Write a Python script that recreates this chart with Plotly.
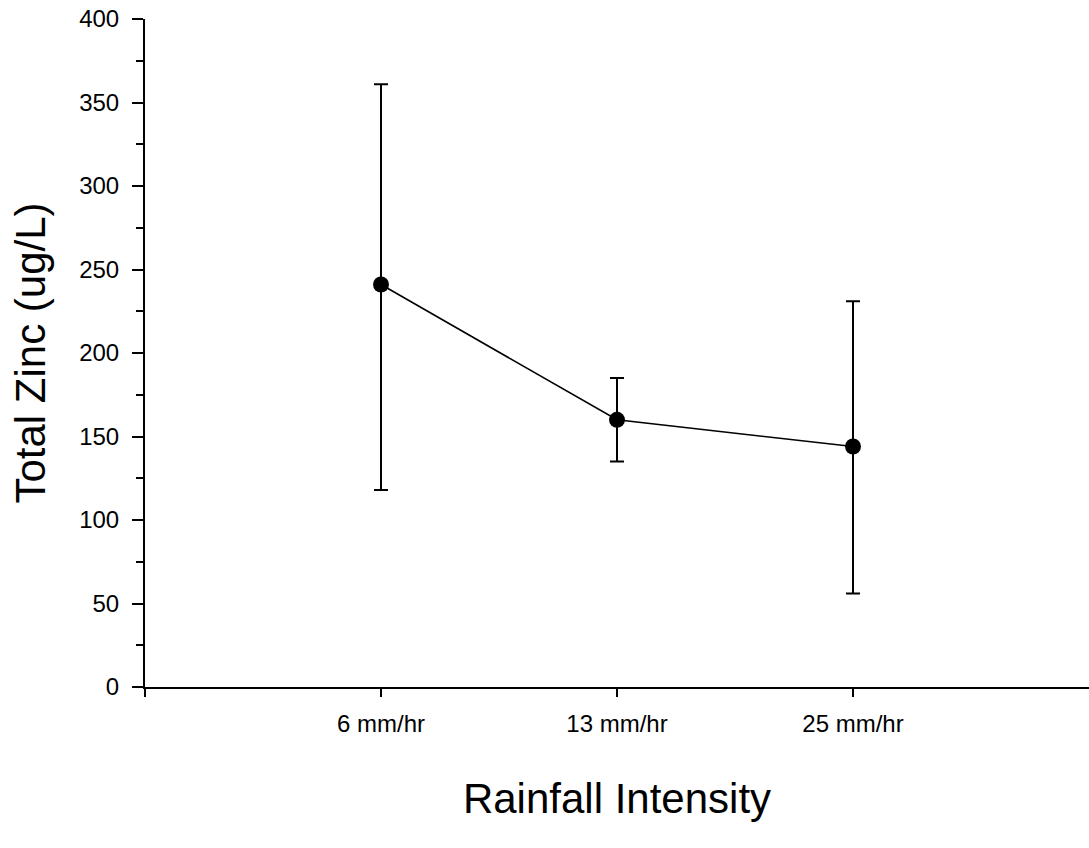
import plotly.graph_objects as go

categories = ["6 mm/hr", "13 mm/hr", "25 mm/hr"]
x_pos = [1, 2, 3]
zinc_mean = [241, 160, 144]
err_plus = [120, 25, 87]
err_minus = [123, 25, 88]

y_tickvals = [0, 50, 100, 150, 200, 250, 300, 350, 400]

FONT = "Liberation Sans, Arial, sans-serif"

fig = go.Figure()
fig.add_trace(go.Scatter(
    x=x_pos, y=zinc_mean,
    mode="lines+markers",
    line=dict(color="black", width=1.6),
    marker=dict(color="black", size=16),
    error_y=dict(type="data", symmetric=False, array=err_plus, arrayminus=err_minus,
                 color="black", thickness=2, width=7),
    showlegend=False,
))

fig.update_layout(
    width=1089, height=848,
    margin=dict(l=145, r=0, t=19, b=161),
    paper_bgcolor="white", plot_bgcolor="white",
    font=dict(family=FONT, color="black"),
    xaxis=dict(
        range=[0, 4], showgrid=False, zeroline=False,
        showline=True, linecolor="black", linewidth=2,
        tickmode="array", tickvals=[0] + x_pos, ticktext=[""] + categories,
        ticks="outside", ticklen=8, tickwidth=2, tickcolor="black",
        tickfont=dict(size=24, family=FONT),
        ticklabelstandoff=6,
        title=dict(text="Rainfall Intensity", font=dict(size=42, family=FONT), standoff=48),
    ),
    yaxis=dict(
        range=[0, 400], showgrid=False, zeroline=False,
        showline=True, linecolor="black", linewidth=2,
        tickmode="array", tickvals=y_tickvals,
        ticks="outside", ticklen=11, tickwidth=2, tickcolor="black",
        tickfont=dict(size=24, family=FONT),
        ticklabelstandoff=8,
        minor=dict(dtick=25, tick0=0, ticks="outside", ticklen=7, tickwidth=2, tickcolor="black"),
        title=dict(text="Total Zinc (ug/L)", font=dict(size=42, family=FONT), standoff=20),
    ),
)

fig.write_html("out.html")
